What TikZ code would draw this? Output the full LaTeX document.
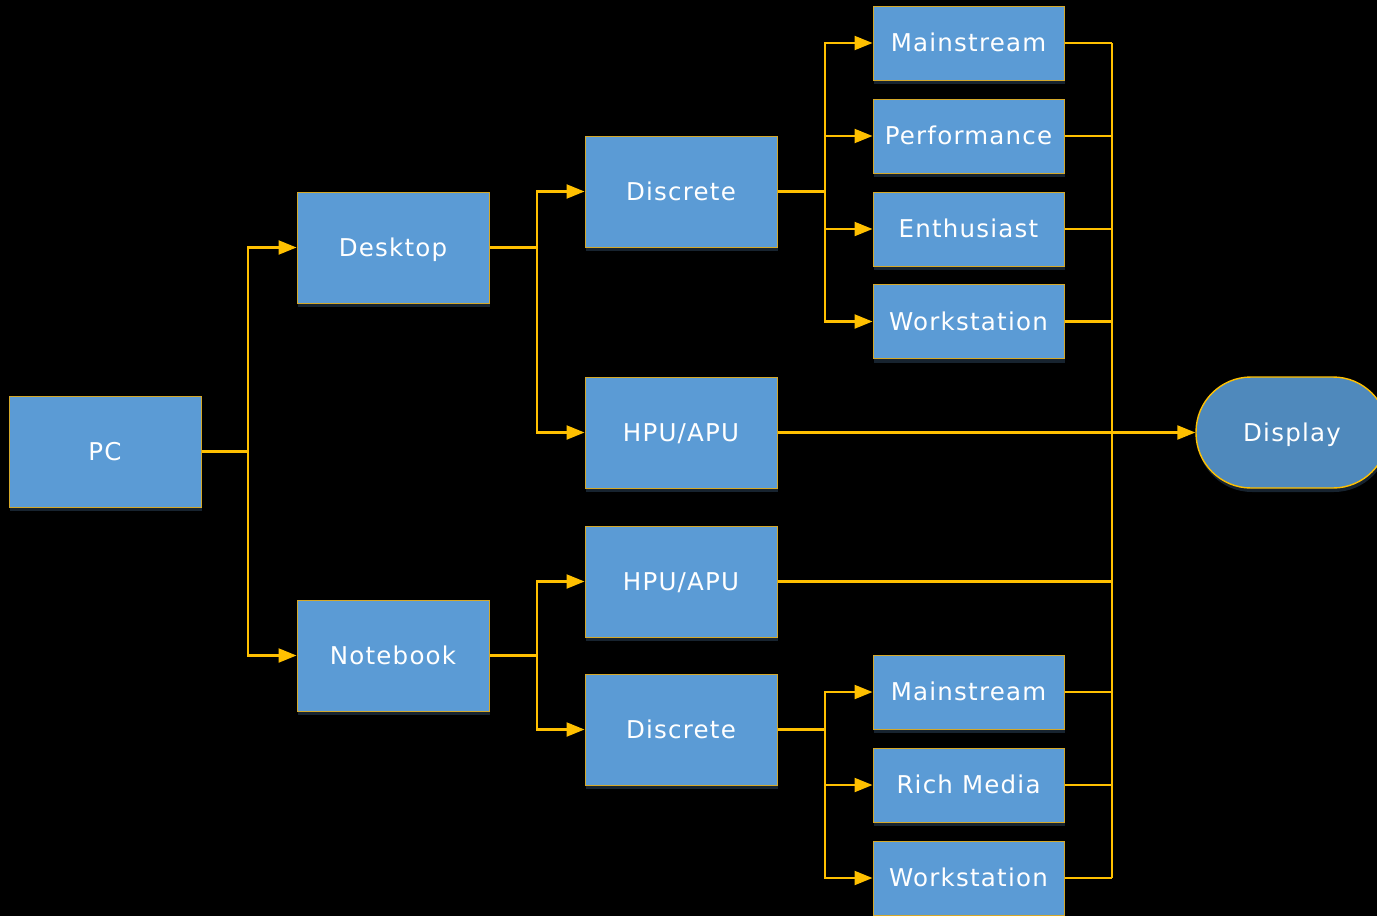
\documentclass[tikz,border=0pt]{standalone}
\usepackage{fontspec}
\setmainfont{DejaVu Sans}[LetterSpace=5]
\usetikzlibrary{arrows.meta,shadows,calc}
\definecolor{boxblue}{HTML}{5B9BD5}
\definecolor{dispblue}{HTML}{4F89BC}
\definecolor{edgegold}{HTML}{D4A82A}
\definecolor{linegold}{HTML}{FFC000}
\definecolor{shadowc}{HTML}{17232F}
\begin{document}
\begin{tikzpicture}[x=1pt,y=-1pt,
  box/.style={draw=edgegold,line width=1pt,fill=boxblue,text=white,
    minimum width=192pt,minimum height=111pt,inner sep=0pt,
    text height=17pt,text depth=0pt,
    font=\fontsize{24.5}{28}\selectfont,
    drop shadow={shadow xshift=1pt,shadow yshift=-4pt,fill=shadowc,opacity=1}},
  leaf/.style={box,minimum width=191pt,minimum height=74pt},
  disp/.style={box,fill=dispblue,rounded corners=55pt,line width=1.4pt,draw=linegold},
  conn/.style={draw=linegold,line width=2.2pt},
  arr/.style={conn,-{Triangle[length=18pt,width=14pt]}}]
\fill[black] (0,0) rectangle (1377,916);
\useasboundingbox (0,0) rectangle (1377,916);

\node[box] (pc) at (105,451.5) {PC};
\node[box] (desk) at (393,247.5) {Desktop};
\node[box] (note) at (393,655.5) {Notebook};
\node[box] (dis1) at (681,191.5) {Discrete};
\node[box] (hpu1) at (681,432.5) {HPU/APU};
\node[box] (hpu2) at (681,581.5) {HPU/APU};
\node[box] (dis2) at (681,729.5) {Discrete};

\node[leaf] (m1) at (968.5,43) {Mainstream};
\node[leaf] (p1) at (968.5,136) {Performance};
\node[leaf] (e1) at (968.5,229) {Enthusiast};
\node[leaf] (w1) at (968.5,321.5) {Workstation};
\node[leaf] (m2) at (968.5,692) {Mainstream};
\node[leaf] (r2) at (968.5,785) {Rich Media};
\node[leaf] (w2) at (968.5,878) {Workstation};

\node[disp] (disp) at (1292,432.5) {Display};

\coordinate (b1) at (248,451.5);
\coordinate (b2) at (537,247.5);
\coordinate (b3) at (537,655.5);
\coordinate (b4) at (825,191.5);
\coordinate (b5) at (825,729.5);
\coordinate (rb) at (1112,0);

\draw[conn] (pc.east) -- (b1);
\draw[arr] (b1) |- (desk.west);
\draw[arr] (b1) |- (note.west);

\draw[conn] (desk.east) -- (b2);
\draw[arr] (b2) |- (dis1.west);
\draw[arr] (b2) |- (hpu1.west);

\draw[conn] (note.east) -- (b3);
\draw[arr] (b3) |- (hpu2.west);
\draw[arr] (b3) |- (dis2.west);

\draw[conn] (dis1.east) -- (b4);
\draw[arr] (b4) |- (m1.west);
\draw[arr] (b4) |- (p1.west);
\draw[arr] (b4) |- (e1.west);
\draw[arr] (b4) |- (w1.west);

\draw[conn] (dis2.east) -- (b5);
\draw[arr] (b5) |- (m2.west);
\draw[arr] (b5) |- (r2.west);
\draw[arr] (b5) |- (w2.west);

\foreach \n in {m1,p1,e1,w1,m2,r2,w2} {
  \draw[conn] (\n.east) -- (rb |- \n.east);
}
\draw[conn] (rb |- m1.east) -- (rb |- w2.east);
\draw[conn] (hpu2.east) -- (rb |- hpu2.east);
\draw[arr] (hpu1.east) -- (disp.west);
\end{tikzpicture}
\end{document}
